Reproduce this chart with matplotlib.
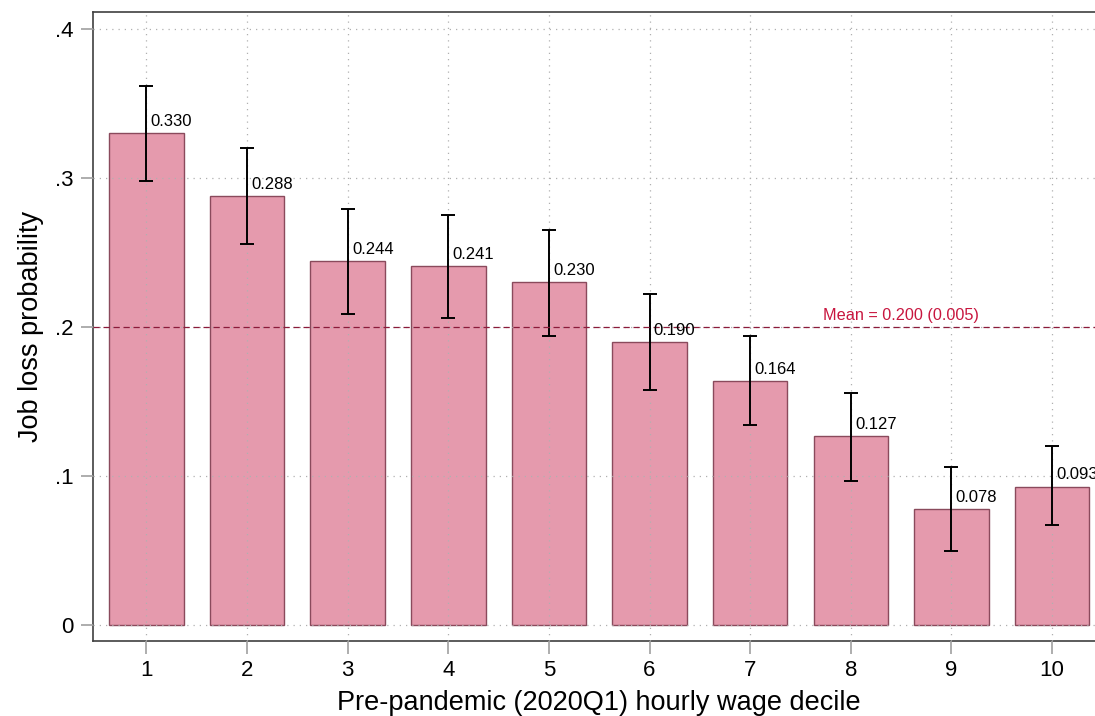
import matplotlib.pyplot as plt

plt.rcParams['font.family'] = ['Liberation Sans', 'DejaVu Sans']

# wage deciles and job loss probabilities (point estimate, 95% CI)
deciles = [1, 2, 3, 4, 5, 6, 7, 8, 9, 10]
prob = [0.330, 0.288, 0.244, 0.241, 0.230, 0.190, 0.164, 0.127, 0.078, 0.093]
ci_low = [0.298, 0.256, 0.209, 0.206, 0.194, 0.158, 0.134, 0.097, 0.050, 0.067]
ci_high = [0.362, 0.320, 0.279, 0.275, 0.265, 0.222, 0.194, 0.156, 0.106, 0.120]
mean_val = 0.200
mean_se = 0.005

fig = plt.figure(figsize=(10.95, 7.16), dpi=100)
ax = fig.add_axes([0.0849, 0.1047, 0.9247, 0.8785])

# bars
ax.bar(deciles, prob, width=0.74, color='#e59aad', edgecolor='#8a4a5c',
       linewidth=1.0, zorder=2)

# grid on top of bars, like stata
ax.grid(True, linestyle=(0, (1, 4)), color='#b0b0b0', linewidth=0.9, zorder=3)
ax.set_axisbelow(False)

# error bars
yerr = [[p - l for p, l in zip(prob, ci_low)], [h - p for p, h in zip(prob, ci_high)]]
ax.errorbar(deciles, prob, yerr=yerr, fmt='none', ecolor='black',
            elinewidth=1.4, capsize=5, capthick=1.4, zorder=4)

# value labels
for x, p in zip(deciles, prob):
    ax.annotate('%.3f' % p, (x, p), xytext=(3, 3), textcoords='offset points',
                ha='left', va='bottom', fontsize=12, zorder=5)

# mean line
ax.axhline(mean_val, color='#8b1a3a', linestyle=(0, (5, 3)), linewidth=0.9, zorder=4)
ax.text(7.72, mean_val + 0.003, 'Mean = %.3f (%.3f)' % (mean_val, mean_se),
        color='#c8163f', fontsize=11.7, ha='left', va='bottom')

ax.set_xlim(0.468, 10.532)
ax.set_ylim(-0.0107, 0.4114)
ax.set_xticks(deciles)
ax.set_yticks([0, 0.1, 0.2, 0.3, 0.4])
ax.set_yticklabels(['0', '.1', '.2', '.3', '.4'])
ax.tick_params(axis='both', length=9, width=1.2, color='#a0a0a0',
               labelsize=16, pad=5)

for s in ax.spines.values():
    s.set_color('#404040')
    s.set_linewidth(1.2)

ax.set_ylabel('Job loss probability', fontsize=19.5, labelpad=8)
ax.set_xlabel('Pre-pandemic (2020Q1) hourly wage decile', fontsize=19.5, labelpad=6)

fig.savefig('out.png', dpi=100)
